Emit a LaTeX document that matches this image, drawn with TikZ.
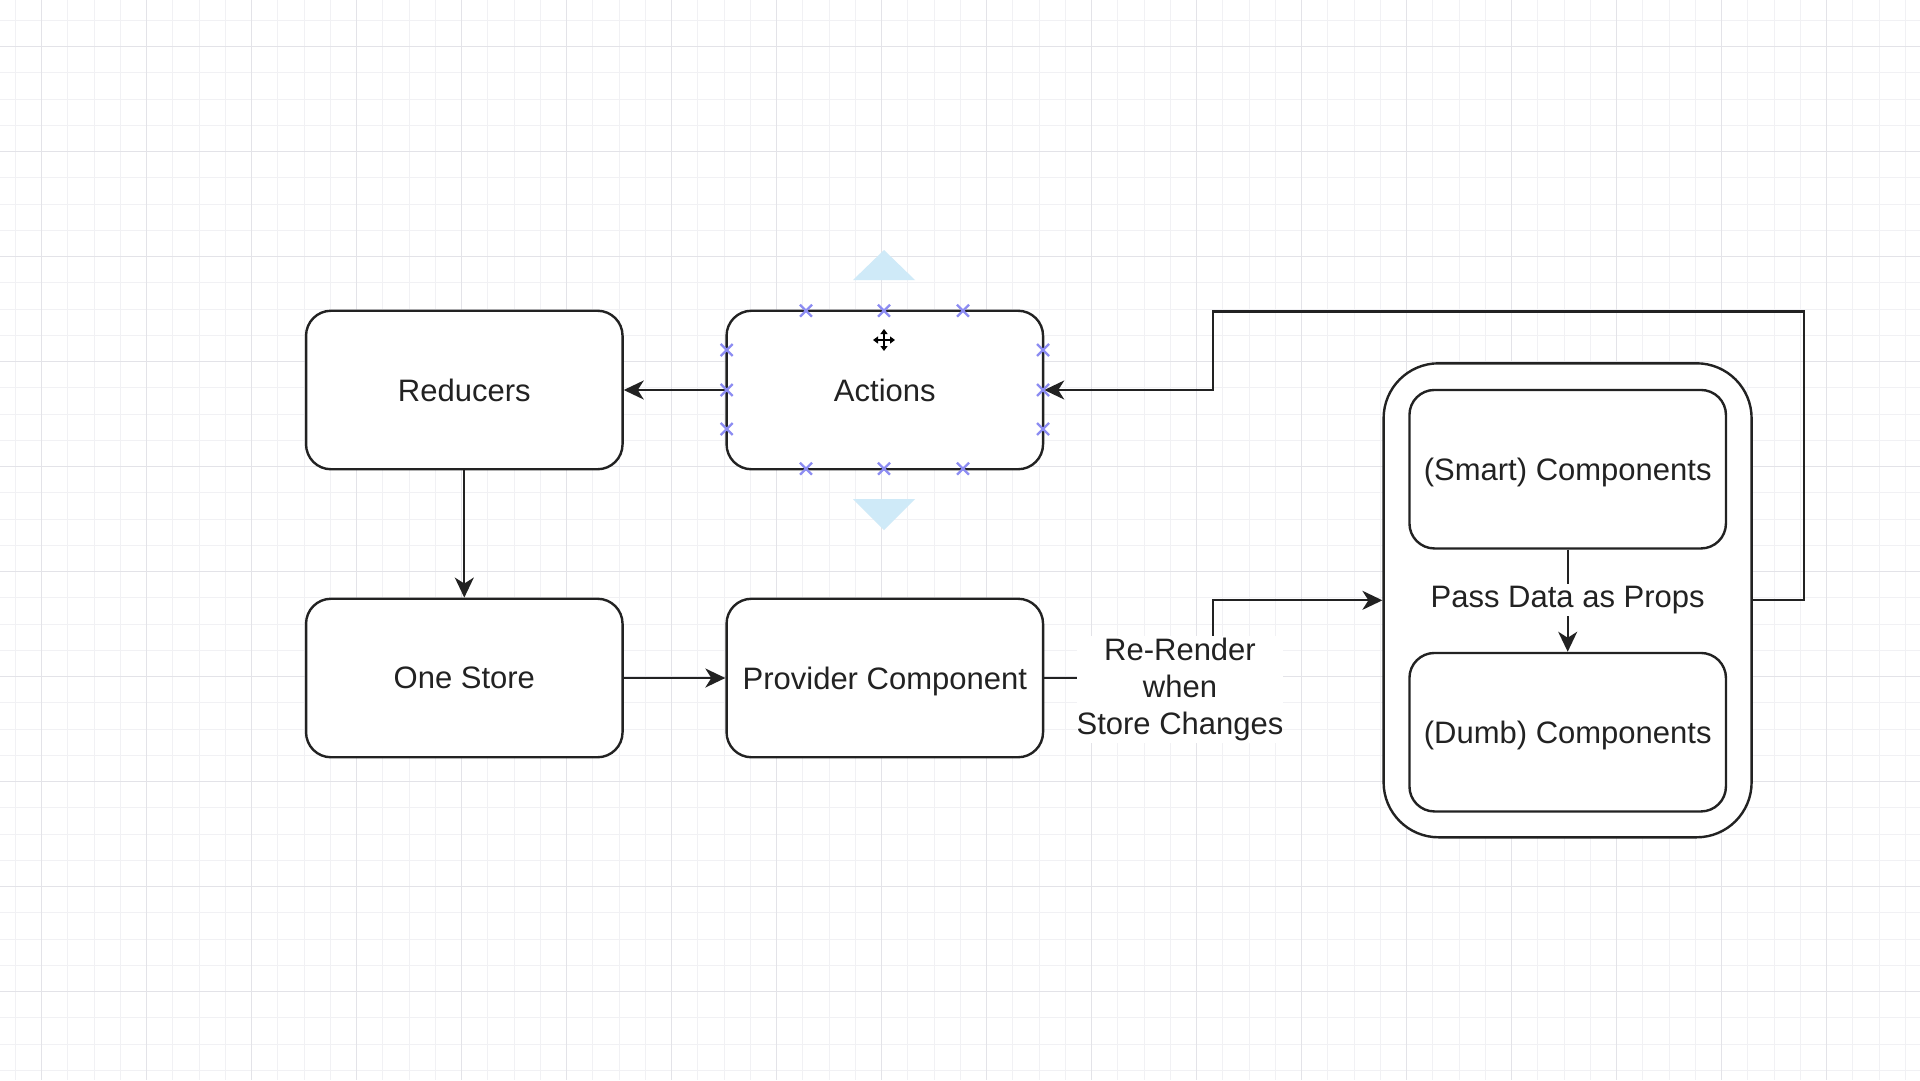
\documentclass[tikz,border=0pt]{standalone}
\usepackage{fontspec}
\setmainfont{Liberation Sans}
\usetikzlibrary{arrows.meta}
\definecolor{gridminor}{HTML}{F1F1F4}
\definecolor{gridmajor}{HTML}{E3E3E8}
\definecolor{handle}{HTML}{8C8CF2}
\definecolor{hint}{HTML}{CFEAF8}
\definecolor{ink}{HTML}{222222}
\begin{document}
\begin{tikzpicture}[x=1pt,y=-1pt,
  lbl/.style={text=ink, font=\fontsize{31}{37.4}\selectfont},
  box/.style={lbl, draw=ink, fill=white, line width=2.4pt, rounded corners=25pt,
    minimum width=316.5pt, minimum height=158.5pt, inner sep=0pt, text depth=0pt},
  container/.style={draw=ink, fill=white, line width=2.4pt, rounded corners=55pt,
    minimum width=368pt, minimum height=474pt, inner sep=0pt},
  conn/.style={draw=ink, line width=2.2pt, -{Stealth[length=20pt,width=19pt,inset=6pt]}},
  edgelabel/.style={lbl, fill=white, inner xsep=0pt, inner ysep=2pt, align=center},
  gminor/.style={draw=gridminor, line width=1pt},
  gmajor/.style={draw=gridmajor, line width=1.4pt},
  handlemark/.style={draw=handle, line width=2.2pt},
  hinttri/.style={fill=hint, draw=none}]
\useasboundingbox (0,0) rectangle (1920,1080);
\fill[white] (0,0) rectangle (1920,1080);
% grid
\foreach \k in {0,...,73} {\pgfmathsetmacro{\gx}{15.45+26.25*\k}\draw[gminor] (\gx,0) -- (\gx,1080);}
\foreach \k in {0,...,41} {\pgfmathsetmacro{\gy}{20.45+26.25*\k}\draw[gminor] (0,\gy) -- (1920,\gy);}
\foreach \k in {0,...,18} {\pgfmathsetmacro{\gx}{41.7+105*\k}\draw[gmajor] (\gx,0) -- (\gx,1080);}
\foreach \k in {0,...,10} {\pgfmathsetmacro{\gy}{46.7+105*\k}\draw[gmajor] (0,\gy) -- (1920,\gy);}

% hint triangles around Actions
\fill[hinttri] (884,250) -- (915,280) -- (853,280) -- cycle;
\fill[hinttri] (853,499) -- (915,499) -- (884,530) -- cycle;

% nodes
\node[box] (red) at (464.3,390) {Reducers};
\node[box] (act) at (884.8,390) {Actions};
\node[box] (store) at (464.3,678) {One Store};
\node[box] (prov) at (884.8,678) {Provider Component};
\node[container] (outer) at (1567.6,600.3) {};
\node[box] (smart) at (1567.7,469.2) {(Smart) Components};
\node[box] (dumb) at (1567.7,732.2) {(Dumb) Components};

% connectors
\draw[conn] (act.west) -- (red.east);
\draw[conn] (red.south) -- (store.north);
\draw[conn] (store.east) -- (prov.west);
\draw[conn] (prov.east) -- (1213,678) |- (outer.west);
\node[edgelabel] (rerender) at (1180,689.5) {Re-Render\\when\\Store Changes};
\draw[conn] (smart.south) -- (dumb.north);
\node[edgelabel] (props) at (1567.7,600) {Pass Data as Props};
\draw[conn] (outer.east) -| (1804,311.5) -| (1213,390) -- (act.east);

% selection handles on Actions
\foreach \hx in {806,884,963} {
  \foreach \hy in {310.7,468.7} {
    \draw[handlemark] (\hx-6,\hy-6) -- (\hx+6,\hy+6) (\hx-6,\hy+6) -- (\hx+6,\hy-6);
  }
}
\foreach \hx in {726.7,1043} {
  \foreach \hy in {350,390,429} {
    \draw[handlemark] (\hx-6,\hy-6) -- (\hx+6,\hy+6) (\hx-6,\hy+6) -- (\hx+6,\hy-6);
  }
}
% move cursor
\coordinate (mv) at (884,340);
\foreach \dx/\dy in {0/-11,0/11,-11/0,11/0} {
  \draw[line width=2pt, black, -{Triangle[length=5pt,width=7pt]}] (mv) -- ++(\dx,\dy);
}
\end{tikzpicture}
\end{document}
